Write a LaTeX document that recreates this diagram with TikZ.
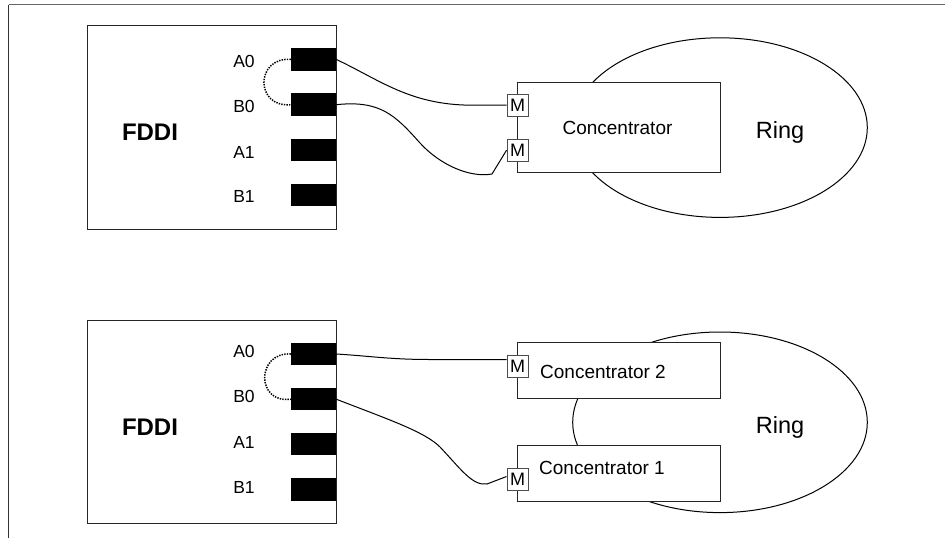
\documentclass[tikz,border=0pt]{standalone}
\usepackage{fontspec}
\setmainfont{Liberation Sans}
\usetikzlibrary{shapes.geometric,calc}

\begin{document}
\begin{tikzpicture}[x=1pt,y=-1pt,
  box/.style={draw=black!85, line width=1pt, fill=white, inner sep=0pt},
  port/.style={fill=black, draw=none, minimum width=45pt, minimum height=22.5pt, inner sep=0pt},
  plabel/.style={font=\fontsize{17.5}{17.5}\selectfont, inner sep=0pt, anchor=base},
  ftext/.style={font=\bfseries\fontsize{24}{24}\selectfont, inner sep=0pt, anchor=base},
  ctext/.style={font=\fontsize{19}{19}\selectfont, inner sep=0pt, anchor=base},
  rtext/.style={font=\fontsize{23.5}{23.5}\selectfont, inner sep=0pt, anchor=base},
  mbox/.style={draw=black!70, fill=white, line width=0.9pt, minimum width=21pt, minimum height=22pt, inner sep=0pt, font=\fontsize{18}{18}\selectfont},
  wire/.style={line width=1pt, black},
  loopline/.style={line width=1.5pt, dash pattern=on 1.4pt off 1.2pt},
  ringshape/.style={ellipse, draw, line width=1pt, minimum width=294.6pt, minimum height=179.6pt, inner sep=0pt},
  framea/.style={draw=black!60, line width=1.4pt},
  frameb/.style={draw=black!80, line width=1.4pt}
]
\useasboundingbox (0,0) rectangle (945,538);

% frame
\coordinate (tl) at (8.7,4.7);
\coordinate (tr) at (945,4.7);
\coordinate (bl) at (8.7,538);
\draw[framea] (tl) -- (tr);
\draw[frameb] (tl) -- (bl);

% ================= top part =================
\node[box, minimum width=248.7pt, minimum height=203.3pt] (f1) at (211.7,127.4) {};
\node[port] (p1a0) at (313.5,59.4) {};
\node[port] (p1b0) at (313.5,104.7) {};
\node[port] (p1a1) at (313.5,150.0) {};
\node[port] (p1b1) at (313.5,195.2) {};
\node[plabel] (l1a0) at (244,67.3) {A0};
\node[plabel] (l1b0) at (244,112.3) {B0};
\node[plabel] (l1a1) at (244,158.3) {A1};
\node[plabel] (l1b1) at (244,202.7) {B1};
\node[ftext] (n1) at (150,140) {FDDI};

\node[ringshape] (r1) at (720,127.6) {};
\node[rtext] (rt1) at (780,138.3) {Ring};
\node[box, minimum width=203.4pt, minimum height=89.6pt] (c1) at (619,127.5) {};
\node[ctext] (ct1) at (617.5,134.3) {Concentrator};
\node[mbox] (m1) at (517.5,105.2) {M};
\node[mbox] (m2) at (517.5,150.2) {M};

\draw[loopline] (p1a0.west) .. controls (255,57) and (255,108) .. (p1b0.west);
\draw[wire] (p1a0.east) .. controls (380,80) and (410,105) .. (472,105.2) -- (m1.west);
\draw[wire] (p1b0.east) .. controls (380,100) and (395,115) .. (420,143)
  .. controls (440,165) and (470,178) .. (492,174) -- (m2.west);

% ================= bottom part =================
\node[box, minimum width=248.7pt, minimum height=202.6pt] (f2) at (211.7,422) {};
\node[port] (p2a0) at (313.5,354.0) {};
\node[port] (p2b0) at (313.5,399.2) {};
\node[port] (p2a1) at (313.5,444.2) {};
\node[port] (p2b1) at (313.5,489.5) {};
\node[plabel] (l2a0) at (244,357.5) {A0};
\node[plabel] (l2b0) at (244,402.8) {B0};
\node[plabel] (l2a1) at (244,448.3) {A1};
\node[plabel] (l2b1) at (244,493.3) {B1};
\node[ftext] (n2) at (150,435) {FDDI};

\node[ringshape, minimum height=180.6pt] (r2) at (720,422.3) {};
\node[rtext] (rt2) at (780,433.3) {Ring};
\node[box, minimum width=203.4pt, minimum height=55.7pt] (c2) at (619,370.8) {};
\node[ctext] (ct2) at (603,378.7) {Concentrator 2};
\node[box, minimum width=203pt, minimum height=56pt] (c3) at (618.8,473) {};
\node[ctext] (ct3) at (602,474) {Concentrator 1};
\node[mbox] (m3) at (517.5,366.5) {M};
\node[mbox] (m4) at (517.5,479.5) {M};

\draw[loopline] (p2a0.west) .. controls (256,352) and (256,404) .. (p2b0.west);
\draw[wire] (p2a0.east) .. controls (370,356) and (390,359.5) .. (430,359.5) -- ($(m3.west)+(0,-7)$);
\draw[wire] (p2b0.east) .. controls (390,420) and (425,432) .. (440,447)
  .. controls (460,468) and (472,486) .. (487,484) -- ($(m4.west)+(0,-3)$);
\end{tikzpicture}
\end{document}
